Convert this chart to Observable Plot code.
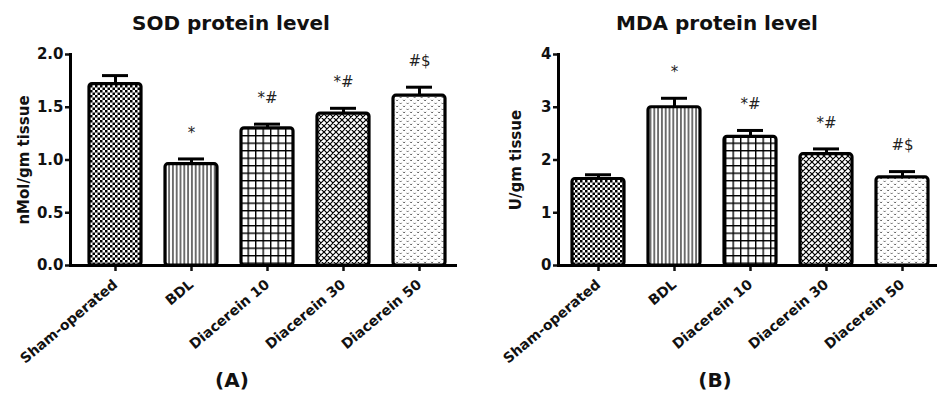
<!DOCTYPE html>
<html><head><meta charset="utf-8">
<script src="https://cdn.jsdelivr.net/npm/d3@7"></script>
<script src="https://cdn.jsdelivr.net/npm/@observablehq/plot@0.6"></script>
<style>
body{margin:0;background:#fff;}
#wrap{position:relative;width:937px;height:398px;overflow:hidden;font-family:"DejaVu Sans",sans-serif;background:#fff;}
.t{position:absolute;font-weight:bold;white-space:nowrap;transform:translateX(-50%);color:#111;}
</style></head><body>
<div id="wrap">
<svg width="0" height="0" style="position:absolute">
  <defs>
    <pattern id="pChecker" patternUnits="userSpaceOnUse" width="5" height="5">
      <rect width="5" height="5" fill="#fff"/>
      <rect x="0" y="0" width="2.5" height="2.5" fill="#000"/>
      <rect x="2.5" y="2.5" width="2.5" height="2.5" fill="#000"/>
    </pattern>
    <pattern id="pVert" patternUnits="userSpaceOnUse" width="3.8" height="4">
      <rect width="3.8" height="4" fill="#fff"/>
      <line x1="1.9" y1="0" x2="1.9" y2="4" stroke="#000" stroke-width="1.1"/>
    </pattern>
    <pattern id="pGrid" patternUnits="userSpaceOnUse" width="7.5" height="7.5">
      <rect width="7.5" height="7.5" fill="#fff"/>
      <line x1="0.7" y1="0" x2="0.7" y2="7.5" stroke="#000" stroke-width="1.4"/>
      <line x1="0" y1="0.7" x2="7.5" y2="0.7" stroke="#000" stroke-width="1.4"/>
    </pattern>
    <pattern id="pCross" patternUnits="userSpaceOnUse" width="6" height="6">
      <rect width="6" height="6" fill="#fff"/>
      <path d="M0,0L6,6M6,0L0,6M-1,5L1,7M5,-1L7,1M-1,1L1,-1M5,7L7,5" stroke="#000" stroke-width="1.2"/>
    </pattern>
    <pattern id="pDots" patternUnits="userSpaceOnUse" width="7" height="6">
      <rect width="7" height="6" fill="#fff"/>
      <path d="M0.6,0.8L1.6,2L2.6,0.8" stroke="#666" stroke-width="1" fill="none"/>
      <path d="M4.1,3.8L5.1,5L6.1,3.8" stroke="#666" stroke-width="1" fill="none"/>
    </pattern>
  </defs>
</svg>
<div id="c1" style="position:absolute;left:0;top:0"></div>
<div id="c2" style="position:absolute;left:470px;top:0"></div>
<div class="t" style="left:231px;top:13px;font-size:20px;line-height:20px">SOD protein level</div>
<div class="t" style="left:717px;top:13px;font-size:20px;line-height:20px">MDA protein level</div>
<div class="t" style="left:232px;top:370px;font-size:20px;line-height:20px">(A)</div>
<div class="t" style="left:715px;top:370px;font-size:20px;line-height:20px">(B)</div>
</div>
<script>
// ---- data ----
const groups = ["Sham-operated", "BDL", "Diacerein 10", "Diacerein 30", "Diacerein 50"];
const sodMean = [1.72, 0.96, 1.30, 1.44, 1.61];
const sodErr  = [0.08, 0.05, 0.04, 0.05, 0.08];
const sodSig  = ["", "*", "*#", "*#", "#$"];
const mdaMean = [1.64, 3.00, 2.44, 2.11, 1.67];
const mdaErr  = [0.08, 0.17, 0.12, 0.10, 0.11];
const mdaSig  = ["", "*", "*#", "*#", "#$"];
const sodTicks = [0, 0.5, 1.0, 1.5, 2.0];
const mdaTicks = [0, 1, 2, 3, 4];
const patterns = ["url(#pChecker)", "url(#pVert)", "url(#pGrid)", "url(#pCross)", "url(#pDots)"];

function makeChart({mean, err, sig, ticks, fmt, label, width, marginLeft, marginRight, align, paddingOuter, labelOffset}) {
  const rows = groups.map((g, i) => ({group: g, value: mean[i], top: mean[i] + err[i], sig: sig[i]}));
  return Plot.plot({
    width, height: 398,
    marginLeft, marginRight, marginTop: 54, marginBottom: 133,
    style: {fontFamily: "DejaVu Sans, sans-serif", fontWeight: "bold", fontSize: "14px", color: "#111", background: "#fff"},
    x: {domain: groups, padding: 0.32, paddingOuter, align, label: null},
    y: {domain: [ticks[0], ticks[ticks.length - 1]], label: null},
    color: {type: "ordinal", domain: groups, range: patterns},
    marks: [
      Plot.ruleX(rows, {x: "group", y1: "value", y2: "top", stroke: "#000", strokeWidth: 3}),
      Plot.barY(rows, {x: "group", y: "value", fill: "group", stroke: "#000", strokeWidth: 3.2, rx: 3}),
      Plot.tickY(rows, {x: "group", y: "top", stroke: "#000", strokeWidth: 3, insetLeft: 13, insetRight: 13}),
      Plot.text(rows, {x: "group", y: "top", text: "sig", dy: -26, fontSize: 15, fontWeight: "normal", fill: "#222"}),
      Plot.axisY({ticks, tickFormat: fmt, tickSize: 5, tickPadding: 2, strokeWidth: 2.5, fontSize: 15,
        label, labelAnchor: "center", labelOffset, labelArrow: "none"}),
      Plot.axisX({tickSize: 6, tickPadding: 11, tickRotate: -40, strokeWidth: 2.5, fontSize: 14, label: null}),
      Plot.frame({anchor: "left", stroke: "#000", strokeWidth: 3}),
      Plot.frame({anchor: "bottom", stroke: "#000", strokeWidth: 3})
    ]
  });
}

document.getElementById("c1").append(makeChart({
  mean: sodMean, err: sodErr, sig: sodSig, ticks: sodTicks, fmt: d3.format(".1f"),
  label: "nMol/gm tissue", width: 470, marginLeft: 70, marginRight: 15,
  paddingOuter: 0.17, align: 0.66, labelOffset: 52
}));
document.getElementById("c2").append(makeChart({
  mean: mdaMean, err: mdaErr, sig: mdaSig, ticks: mdaTicks, fmt: d3.format("d"),
  label: "U/gm tissue", width: 467, marginLeft: 88, marginRight: 0,
  paddingOuter: 0.14, align: 0.59, labelOffset: 48
}));
</script>
</body></html>
